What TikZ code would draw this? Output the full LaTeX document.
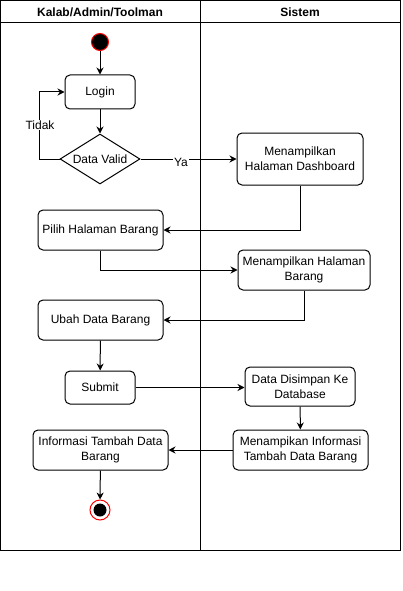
\documentclass[tikz,border=0pt]{standalone}
\usepackage{fontspec}
\setmainfont{Liberation Sans}
\usetikzlibrary{arrows.meta,shapes.geometric}
\begin{document}
\begin{tikzpicture}[x=1pt,y=-1pt,line width=1pt,
  every node/.style={font=\fontsize{12}{15}\selectfont},
  act/.style={draw, rounded corners=5pt, fill=white, align=center, inner sep=0pt},
  arr/.style={-{Stealth[length=7pt,width=7pt]}},
  lbl/.style={fill=white, inner sep=1pt}]
\useasboundingbox (0,0) rectangle (402,591);
% frame
\draw (0.5,0.5) rectangle (400,550);
\draw (0.5,23) -- (400,23);
\draw (200,0.5) -- (200,550);
\node[font=\fontsize{12}{15}\selectfont\bfseries] (h1) at (100,12) {Kalab/Admin/Toolman};
\node[font=\fontsize{12}{15}\selectfont\bfseries] (h2) at (300,12) {Sistem};
% nodes
\node[circle, fill=black, draw=red, minimum size=17pt, inner sep=0pt] (start) at (100,42) {};
\node[act, minimum width=70pt, minimum height=34pt] (login) at (100,92) {Login};
\node[draw, diamond, fill=white, shape aspect=1.6, inner sep=0pt, minimum width=80pt, minimum height=50pt] (valid) at (100,159) {Data Valid};
\node[act, minimum width=126pt, minimum height=52pt] (dash) at (300,159) {Menampilkan\\Halaman Dashboard};
\node[act, minimum width=125pt, minimum height=40pt] (pilih) at (100.5,230) {Pilih Halaman Barang};
\node[act, minimum width=132pt, minimum height=40pt] (mhb) at (304,270) {Menampilkan Halaman\\Barang};
\node[act, minimum width=125pt, minimum height=40pt] (ubah) at (100.5,320) {Ubah Data Barang};
\node[act, minimum width=70pt, minimum height=33pt] (submit) at (100,387.5) {Submit};
\node[act, minimum width=110pt, minimum height=39pt] (simpan) at (300,386.5) {Data Disimpan Ke\\Database};
\node[act, minimum width=135pt, minimum height=40pt] (minfo) at (300.5,450) {Menampikan Informasi\\Tambah Data Barang};
\node[act, minimum width=135pt, minimum height=40pt] (info) at (100.5,450) {Informasi Tambah Data\\Barang};
\node[circle, draw=red, fill=white, minimum size=20pt, inner sep=0pt] (end) at (100,510) {};
\node[circle, fill=black, minimum size=13pt, inner sep=0pt] (endin) at (100,510) {};
% connectors
\draw[arr] (start) -- (login);
\draw[arr] (login) -- (valid);
\draw[arr] (valid.west) -- ++(-20,0) |- (login.west);
\node[lbl] (tidak) at (40,125) {Tidak};
\draw[arr] (valid.east) -- (dash.west);
\node[lbl] (ya) at (181,162) {Ya};
\draw[arr] (dash.south) |- (pilih.east);
\draw[arr] (pilih.south) |- (mhb.west);
\draw[arr] (mhb.south) |- (ubah.east);
\draw[arr] (ubah) -- (submit);
\draw[arr] (submit.east) -- (simpan.west |- submit.east);
\draw[arr] (simpan) -- (minfo);
\draw[arr] (minfo) -- (info);
\draw[arr] (info) -- (end);
\end{tikzpicture}
\end{document}
